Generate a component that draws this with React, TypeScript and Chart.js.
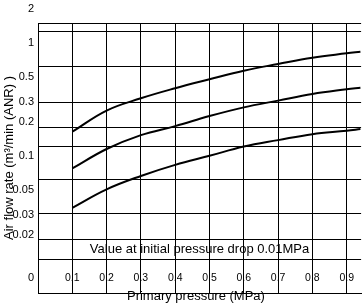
import React, { useEffect, useRef } from 'react';
import { Chart, registerables } from 'chart.js';

Chart.register(...registerables);

// Primary pressure (MPa) at which the curves were read
const pressures = [0.1, 0.2, 0.3, 0.4, 0.5, 0.6, 0.7, 0.8, 0.9, 0.94];
// Air flow rate (m³/min (ANR))
const flowUpper = [0.165, 0.254, 0.326, 0.4, 0.48, 0.572, 0.656, 0.746, 0.816, 0.843];
const flowMiddle = [0.078, 0.116, 0.154, 0.185, 0.227, 0.271, 0.311, 0.356, 0.392, 0.405];
const flowLower = [0.035, 0.051, 0.067, 0.084, 0.101, 0.122, 0.139, 0.157, 0.168, 0.174];

// x axis ticks
const xTickValues = [0, 0.1, 0.2, 0.3, 0.4, 0.5, 0.6, 0.7, 0.8, 0.9];
const xTickLabels = ['', '0.1', '0.2', '0.3', '0.4', '0.5', '0.6', '0.7', '0.8', '0.9'];
const xMin = 0;
const xMax = 0.942;

// y axis labels (log scale)
const yLabelValues = [2, 1, 0.5, 0.3, 0.2, 0.1, 0.05, 0.03, 0.02, 0.0084];
const yLabelTexts = ['2', '1', '0.5', '0.3', '0.2', '0.1', '0.05', '0.03', '0.02', '0'];
// y grid lines (as printed, not aligned with the labels)
const yGridValues = [1.512, 1.259, 0.617, 0.302, 0.1816, 0.1209, 0.0617, 0.0309, 0.0185, 0.0123];
const yMin = 0.00617;
const yMax = 1.512;

// note band (between two grid lines)
const noteText = 'Value at initial pressure drop 0.01MPa';
const noteBandHigh = 0.0185;
const noteBandLow = 0.0123;

const FONT = '"Liberation Sans", Arial, Helvetica, sans-serif';

const notePlugin = {
  id: 'noteText',
  beforeDatasetsDraw(chart: any) {
    const { ctx, chartArea } = chart;
    const yg = chart.scales.yg;
    const y = (yg.getPixelForValue(noteBandHigh) + yg.getPixelForValue(noteBandLow)) / 2;
    ctx.save();
    ctx.font = `13px ${FONT}`;
    ctx.fillStyle = '#000';
    ctx.textAlign = 'center';
    ctx.textBaseline = 'middle';
    ctx.fillText(noteText, (chartArea.left + chartArea.right) / 2, y);
    ctx.restore();
  },
};

export default function App() {
  const canvasRef = useRef<HTMLCanvasElement | null>(null);

  useEffect(() => {
    const canvas = canvasRef.current;
    if (!canvas) return;
    const mk = (data: number[]) => ({
      data: pressures.map((p, i) => ({ x: p, y: data[i] })),
      borderColor: '#000',
      borderWidth: 2,
      pointRadius: 0,
      fill: false,
      tension: 0.4,
      yAxisID: 'y',
    });
    const chart = new Chart(canvas, {
      type: 'line',
      data: {
        datasets: [mk(flowUpper), mk(flowMiddle), mk(flowLower)],
      },
      options: {
        animation: false,
        responsive: false,
        maintainAspectRatio: false,
        layout: { padding: { top: 23, left: 0, right: 0, bottom: 0 } },
        plugins: {
          legend: { display: false },
          tooltip: { enabled: false },
        },
        scales: {
          x: {
            type: 'linear',
            min: xMin,
            max: xMax,
            bounds: 'data',
            afterBuildTicks: (s: any) => {
              s.ticks = xTickValues.map((v) => ({ value: v }));
            },
            afterFit: (s: any) => {
              s.height = 11;
            },
            grid: { color: '#000', lineWidth: 1, drawTicks: false },
            border: { display: true, color: '#000', width: 1 },
            ticks: {
              autoSkip: false,
              maxRotation: 0,
              mirror: true,
              padding: 9,
              color: '#000',
              font: { family: FONT, size: 10.5 },
              callback: (_v: any, i: number) => xTickLabels[i],
            },
            title: {
              display: true,
              text: 'Primary pressure (MPa)  ',
              color: '#000',
              font: { family: FONT, size: 13 },
              padding: 0,
            },
          },
          y: {
            type: 'logarithmic',
            position: 'left',
            min: yMin,
            max: yMax,
            bounds: 'data',
            afterBuildTicks: (s: any) => {
              s.ticks = yLabelValues.map((v) => ({ value: v }));
            },
            afterFit: (s: any) => {
              s.width = 38;
            },
            grid: { display: false, drawTicks: false },
            border: { display: true, color: '#000', width: 1 },
            ticks: {
              autoSkip: false,
              padding: 4,
              color: '#000',
              font: { family: FONT, size: 11 },
              callback: (_v: any, i: number) => yLabelTexts[i],
            },
            title: {
              display: true,
              text: 'Air flow rate (m³/min (ANR) )',
              color: '#000',
              font: { family: FONT, size: 13 },
              padding: { top: 2, bottom: 0 },
            },
          },
          yg: {
            type: 'logarithmic',
            position: 'left',
            min: yMin,
            max: yMax,
            bounds: 'data',
            afterBuildTicks: (s: any) => {
              s.ticks = yGridValues.map((v) => ({ value: v }));
            },
            afterFit: (s: any) => {
              s.width = 0;
            },
            grid: { color: '#000', lineWidth: 1, drawTicks: false },
            border: { display: false },
            ticks: { display: false },
          },
        },
      },
      plugins: [notePlugin],
    });
    return () => chart.destroy();
  }, []);

  return (
    <div style={{ position: 'absolute', left: 0, top: 0, width: 363, height: 304, background: '#fff' }}>
      <canvas ref={canvasRef} width={363} height={304} style={{ display: 'block' }} />
    </div>
  );
}
